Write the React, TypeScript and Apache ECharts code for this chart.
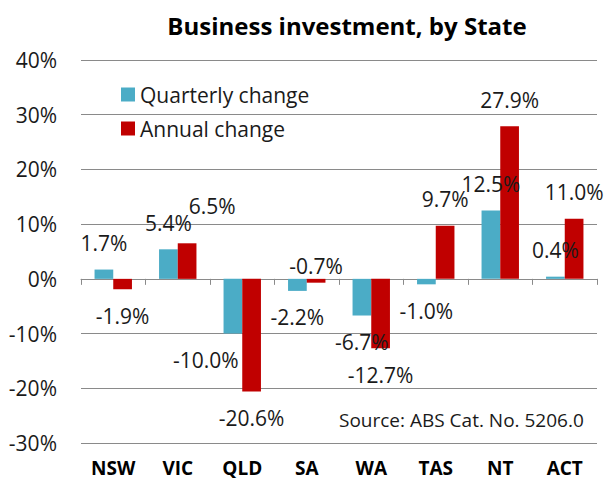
import React, { useEffect, useRef } from "react";
import * as echarts from "echarts";

const categories = ["NSW", "VIC", "QLD", "SA", "WA", "TAS", "NT", "ACT"];
const quarterly = [1.7, 5.4, -10.0, -2.2, -6.7, -1.0, 12.5, 0.4];
const annual = [-1.9, 6.5, -20.6, -0.7, -12.7, 9.7, 27.9, 11.0];
const seriesNames = ["Quarterly change", "Annual change"];
const yMin = -30;
const yMax = 40;
const yStep = 10;
const titleText = "Business investment, by State";
const sourceText = "Source: ABS Cat. No. 5206.0";

// label nudges (layout only): [seriesIndex, dataIndex, dx, dy]
const labelNudges: [number, number, number, number][] = [
  [1, 1, 25, -11],
  [0, 2, -27, 0],
  [1, 3, 0, -43],
];

const FONT = "Open Sans";
const TEXT = "#1a1a1a";
const GRID = "#8a8a8a";

function buildData(values: number[], sIdx: number) {
  return values.map((v, i) => {
    const n = labelNudges.find((x) => x[0] === sIdx && x[1] === i);
    if (!n) return v;
    return { value: v, label: { offset: [n[2], n[3]] } };
  });
}

export default function App() {
  const ref = useRef<HTMLDivElement>(null);
  useEffect(() => {
    if (!ref.current) return;
    const chart = echarts.init(ref.current, undefined, { renderer: "svg" });
    const labelCfg = {
      show: true,
      position: "outside",
      distance: 16,
      fontFamily: FONT,
      fontSize: 21,
      color: TEXT,
      formatter: (p: any) => Number(p.value).toFixed(1) + "%",
    };
    chart.setOption({
      animation: false,
      textStyle: { fontFamily: FONT },
      grid: { left: 81, right: 10, top: 60, bottom: 38 },
      legend: {
        orient: "vertical",
        left: 121,
        top: 84,
        padding: 0,
        itemWidth: 14,
        itemHeight: 14,
        itemGap: 13,
        icon: "rect",
        data: seriesNames,
        textStyle: { fontFamily: FONT, fontSize: 21, color: TEXT },
      },
      graphic: [
        {
          type: "text",
          x: 347,
          y: 25,
          style: {
            text: titleText,
            textAlign: "center",
            textVerticalAlign: "middle",
            font: `bold 24px ${FONT}`,
            fill: "#000",
          },
        },
        {
          type: "text",
          x: 339,
          y: 420,
          style: {
            text: sourceText,
            textAlign: "left",
            textVerticalAlign: "middle",
            font: `19px ${FONT}`,
            fill: TEXT,
          },
        },
      ],
      xAxis: [
        {
          type: "category",
          data: categories,
          axisLine: { onZero: true, lineStyle: { color: GRID, width: 1 } },
          axisTick: { show: true, length: 6, lineStyle: { color: GRID } },
          axisLabel: { show: false },
        },
        {
          type: "category",
          data: categories,
          position: "bottom",
          axisLine: { show: false, onZero: false },
          axisTick: { show: false },
          axisLabel: {
            show: true,
            margin: 15,
            fontFamily: FONT,
            fontWeight: "bold",
            fontSize: 19,
            color: "#000",
          },
        },
      ],
      yAxis: {
        type: "value",
        min: yMin,
        max: yMax,
        interval: yStep,
        axisLine: { show: false },
        axisTick: { show: false },
        splitLine: { show: true, lineStyle: { color: GRID, width: 1 } },
        axisLabel: {
          margin: 24,
          fontFamily: FONT,
          fontSize: 21,
          color: TEXT,
          formatter: (v: number) => v + "%",
        },
      },
      series: [
        {
          name: seriesNames[0],
          type: "bar",
          xAxisIndex: 0,
          data: buildData(quarterly, 0),
          barWidth: "29%",
          barGap: "0%",
          itemStyle: { color: "#4BACC6" },
          label: labelCfg,
        },
        {
          name: seriesNames[1],
          type: "bar",
          xAxisIndex: 0,
          data: buildData(annual, 1),
          barWidth: "29%",
          barGap: "0%",
          itemStyle: { color: "#C00000" },
          label: labelCfg,
        },
      ],
    });
    return () => chart.dispose();
  }, []);
  return (
    <div
      ref={ref}
      style={{ position: "fixed", left: 0, top: 0, width: 607, height: 481, background: "#fff" }}
    />
  );
}
